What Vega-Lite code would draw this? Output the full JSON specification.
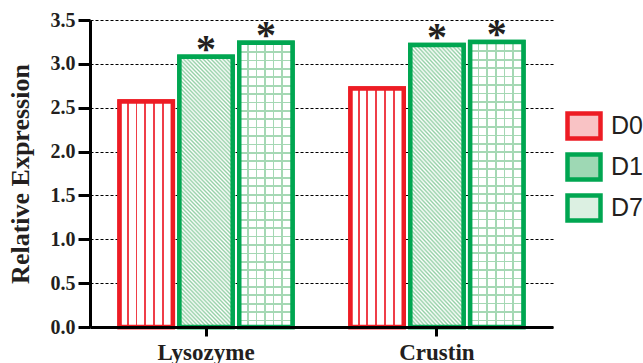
{
"$schema": "https://vega.github.io/schema/vega-lite/v6.json",
"width": 463, "height": 307,
"autosize": {"type": "none"},
"padding": {"left": 90, "top": 20, "right": 90, "bottom": 36},
"background": "white",
"config": {"view": {"stroke": null}},
"data": {"values": [
 {"gene": "Lysozyme", "group": "D0", "value": 2.57, "sig": ""},
 {"gene": "Lysozyme", "group": "D1", "value": 3.08, "sig": "*"},
 {"gene": "Lysozyme", "group": "D7", "value": 3.24, "sig": "*"},
 {"gene": "Crustin", "group": "D0", "value": 2.72, "sig": ""},
 {"gene": "Crustin", "group": "D1", "value": 3.215, "sig": "*"},
 {"gene": "Crustin", "group": "D7", "value": 3.25, "sig": "*"}
]},
"encoding": {
 "x": {"field": "gene", "type": "nominal", "sort": ["Lysozyme", "Crustin"], "scale": {"paddingInner": 0.251, "paddingOuter": 0.128},
   "axis": {"title": null, "labelAngle": 0, "domainColor": "#000", "domainWidth": 3, "tickColor": "#000", "tickWidth": 3, "tickSize": 9, "labelPadding": 5, "labelFont": "Liberation Serif", "labelFontWeight": "bold", "labelFontSize": 23, "labelColor": "#231f20", "zindex": 1, "grid": false}},
 "xOffset": {"field": "group", "type": "nominal", "sort": ["D0", "D1", "D7"], "scale": {"domain": ["D0", "D1", "D7"], "paddingInner": 0.11, "paddingOuter": 0}},
 "y": {"field": "value", "type": "quantitative", "scale": {"domain": [0, 3.5]},
   "axis": {"title": "Relative Expression", "values": [0, 0.5, 1, 1.5, 2, 2.5, 3, 3.5], "format": ".1f", "grid": true, "gridColor": "#000", "gridDash": [3, 2], "gridWidth": 1.2, "domainColor": "#000", "domainWidth": 3, "tickColor": "#000", "tickWidth": 3, "tickSize": 12, "labelPadding": 3, "labelFont": "Liberation Serif", "labelFontWeight": "bold", "labelFontSize": 20, "labelColor": "#231f20", "titleFont": "Liberation Serif", "titleFontWeight": "bold", "titleFontSize": 26, "titleColor": "#231f20", "titlePadding": 17}}
},
"layer": [
 {"mark": {"type": "bar", "strokeWidth": 4.5},
  "encoding": {
   "fill": {"field": "group", "type": "nominal",
    "scale": {"domain": ["D0", "D1", "D7"], "range": ["#f9c3c5", "#9ed8b4", "#dcf0e2"]},
    "legend": {"title": null, "orient": "none", "legendX": 475, "legendY": 87, "padding": 0, "rowPadding": -8,
     "symbolType": "M-1,-0.76L1,-0.76L1,0.76L-1,0.76Z", "symbolSize": 1089, "symbolStrokeWidth": 4.5,
     "labelFont": "Liberation Sans", "labelFontSize": 25, "labelColor": "#231f20", "labelOffset": 8}},
   "stroke": {"field": "group", "type": "nominal", "scale": {"domain": ["D0", "D1", "D7"], "range": ["#ed1c24", "#00a651", "#00a651"]},
    "legend": {"title": null, "orient": "none", "legendX": 475, "legendY": 87, "padding": 0, "rowPadding": -8,
     "symbolType": "M-1,-0.76L1,-0.76L1,0.76L-1,0.76Z", "symbolSize": 1089, "symbolStrokeWidth": 4.5,
     "labelFont": "Liberation Sans", "labelFontSize": 25, "labelColor": "#231f20", "labelOffset": 8}}}},
 {"transform": [{"filter": "datum.group === 'D0'"}],
  "mark": {"type": "bar", "fill": {"gradient": "linear", "x1": 0, "y1": 0, "x2": 1, "y2": 0, "stops": [
   {"offset": 0, "color": "#fff"}, {"offset": 0.142, "color": "#fff"}, {"offset": 0.142, "color": "#ef3e48"}, {"offset": 0.178, "color": "#ef3e48"}, {"offset": 0.178, "color": "#fff"},
   {"offset": 0.3, "color": "#fff"}, {"offset": 0.3, "color": "#ef3e48"}, {"offset": 0.336, "color": "#ef3e48"}, {"offset": 0.336, "color": "#fff"},
   {"offset": 0.462, "color": "#fff"}, {"offset": 0.462, "color": "#ef3e48"}, {"offset": 0.498, "color": "#ef3e48"}, {"offset": 0.498, "color": "#fff"},
   {"offset": 0.627, "color": "#fff"}, {"offset": 0.627, "color": "#ef3e48"}, {"offset": 0.663, "color": "#ef3e48"}, {"offset": 0.663, "color": "#fff"},
   {"offset": 0.792, "color": "#fff"}, {"offset": 0.792, "color": "#ef3e48"}, {"offset": 0.828, "color": "#ef3e48"}, {"offset": 0.828, "color": "#fff"},
   {"offset": 1, "color": "#fff"}]}}},
 {"transform": [{"filter": "datum.group === 'D1'"}],
  "mark": {"type": "bar", "fill": {"gradient": "linear", "x1": 0, "y1": 1, "x2": 0.235, "y2": -0.155, "stops": [
   {"offset": 0, "color": "#94d0a6"}, {"offset": 0.00625, "color": "#fff"}, {"offset": 0.0125, "color": "#94d0a6"}, {"offset": 0.01875, "color": "#fff"}, {"offset": 0.025, "color": "#94d0a6"}, {"offset": 0.03125, "color": "#fff"}, {"offset": 0.0375, "color": "#94d0a6"}, {"offset": 0.04375, "color": "#fff"},
   {"offset": 0.05, "color": "#94d0a6"}, {"offset": 0.05625, "color": "#fff"}, {"offset": 0.0625, "color": "#94d0a6"}, {"offset": 0.06875, "color": "#fff"}, {"offset": 0.075, "color": "#94d0a6"}, {"offset": 0.08125, "color": "#fff"}, {"offset": 0.0875, "color": "#94d0a6"}, {"offset": 0.09375, "color": "#fff"},
   {"offset": 0.1, "color": "#94d0a6"}, {"offset": 0.10625, "color": "#fff"}, {"offset": 0.1125, "color": "#94d0a6"}, {"offset": 0.11875, "color": "#fff"}, {"offset": 0.125, "color": "#94d0a6"}, {"offset": 0.13125, "color": "#fff"}, {"offset": 0.1375, "color": "#94d0a6"}, {"offset": 0.14375, "color": "#fff"},
   {"offset": 0.15, "color": "#94d0a6"}, {"offset": 0.15625, "color": "#fff"}, {"offset": 0.1625, "color": "#94d0a6"}, {"offset": 0.16875, "color": "#fff"}, {"offset": 0.175, "color": "#94d0a6"}, {"offset": 0.18125, "color": "#fff"}, {"offset": 0.1875, "color": "#94d0a6"}, {"offset": 0.19375, "color": "#fff"},
   {"offset": 0.2, "color": "#94d0a6"}, {"offset": 0.20625, "color": "#fff"}, {"offset": 0.2125, "color": "#94d0a6"}, {"offset": 0.21875, "color": "#fff"}, {"offset": 0.225, "color": "#94d0a6"}, {"offset": 0.23125, "color": "#fff"}, {"offset": 0.2375, "color": "#94d0a6"}, {"offset": 0.24375, "color": "#fff"},
   {"offset": 0.25, "color": "#94d0a6"}, {"offset": 0.25625, "color": "#fff"}, {"offset": 0.2625, "color": "#94d0a6"}, {"offset": 0.26875, "color": "#fff"}, {"offset": 0.275, "color": "#94d0a6"}, {"offset": 0.28125, "color": "#fff"}, {"offset": 0.2875, "color": "#94d0a6"}, {"offset": 0.29375, "color": "#fff"},
   {"offset": 0.3, "color": "#94d0a6"}, {"offset": 0.30625, "color": "#fff"}, {"offset": 0.3125, "color": "#94d0a6"}, {"offset": 0.31875, "color": "#fff"}, {"offset": 0.325, "color": "#94d0a6"}, {"offset": 0.33125, "color": "#fff"}, {"offset": 0.3375, "color": "#94d0a6"}, {"offset": 0.34375, "color": "#fff"},
   {"offset": 0.35, "color": "#94d0a6"}, {"offset": 0.35625, "color": "#fff"}, {"offset": 0.3625, "color": "#94d0a6"}, {"offset": 0.36875, "color": "#fff"}, {"offset": 0.375, "color": "#94d0a6"}, {"offset": 0.38125, "color": "#fff"}, {"offset": 0.3875, "color": "#94d0a6"}, {"offset": 0.39375, "color": "#fff"},
   {"offset": 0.4, "color": "#94d0a6"}, {"offset": 0.40625, "color": "#fff"}, {"offset": 0.4125, "color": "#94d0a6"}, {"offset": 0.41875, "color": "#fff"}, {"offset": 0.425, "color": "#94d0a6"}, {"offset": 0.43125, "color": "#fff"}, {"offset": 0.4375, "color": "#94d0a6"}, {"offset": 0.44375, "color": "#fff"},
   {"offset": 0.45, "color": "#94d0a6"}, {"offset": 0.45625, "color": "#fff"}, {"offset": 0.4625, "color": "#94d0a6"}, {"offset": 0.46875, "color": "#fff"}, {"offset": 0.475, "color": "#94d0a6"}, {"offset": 0.48125, "color": "#fff"}, {"offset": 0.4875, "color": "#94d0a6"}, {"offset": 0.49375, "color": "#fff"},
   {"offset": 0.5, "color": "#94d0a6"}, {"offset": 0.50625, "color": "#fff"}, {"offset": 0.5125, "color": "#94d0a6"}, {"offset": 0.51875, "color": "#fff"}, {"offset": 0.525, "color": "#94d0a6"}, {"offset": 0.53125, "color": "#fff"}, {"offset": 0.5375, "color": "#94d0a6"}, {"offset": 0.54375, "color": "#fff"},
   {"offset": 0.55, "color": "#94d0a6"}, {"offset": 0.55625, "color": "#fff"}, {"offset": 0.5625, "color": "#94d0a6"}, {"offset": 0.56875, "color": "#fff"}, {"offset": 0.575, "color": "#94d0a6"}, {"offset": 0.58125, "color": "#fff"}, {"offset": 0.5875, "color": "#94d0a6"}, {"offset": 0.59375, "color": "#fff"},
   {"offset": 0.6, "color": "#94d0a6"}, {"offset": 0.60625, "color": "#fff"}, {"offset": 0.6125, "color": "#94d0a6"}, {"offset": 0.61875, "color": "#fff"}, {"offset": 0.625, "color": "#94d0a6"}, {"offset": 0.63125, "color": "#fff"}, {"offset": 0.6375, "color": "#94d0a6"}, {"offset": 0.64375, "color": "#fff"},
   {"offset": 0.65, "color": "#94d0a6"}, {"offset": 0.65625, "color": "#fff"}, {"offset": 0.6625, "color": "#94d0a6"}, {"offset": 0.66875, "color": "#fff"}, {"offset": 0.675, "color": "#94d0a6"}, {"offset": 0.68125, "color": "#fff"}, {"offset": 0.6875, "color": "#94d0a6"}, {"offset": 0.69375, "color": "#fff"},
   {"offset": 0.7, "color": "#94d0a6"}, {"offset": 0.70625, "color": "#fff"}, {"offset": 0.7125, "color": "#94d0a6"}, {"offset": 0.71875, "color": "#fff"}, {"offset": 0.725, "color": "#94d0a6"}, {"offset": 0.73125, "color": "#fff"}, {"offset": 0.7375, "color": "#94d0a6"}, {"offset": 0.74375, "color": "#fff"},
   {"offset": 0.75, "color": "#94d0a6"}, {"offset": 0.75625, "color": "#fff"}, {"offset": 0.7625, "color": "#94d0a6"}, {"offset": 0.76875, "color": "#fff"}, {"offset": 0.775, "color": "#94d0a6"}, {"offset": 0.78125, "color": "#fff"}, {"offset": 0.7875, "color": "#94d0a6"}, {"offset": 0.79375, "color": "#fff"},
   {"offset": 0.8, "color": "#94d0a6"}, {"offset": 0.80625, "color": "#fff"}, {"offset": 0.8125, "color": "#94d0a6"}, {"offset": 0.81875, "color": "#fff"}, {"offset": 0.825, "color": "#94d0a6"}, {"offset": 0.83125, "color": "#fff"}, {"offset": 0.8375, "color": "#94d0a6"}, {"offset": 0.84375, "color": "#fff"},
   {"offset": 0.85, "color": "#94d0a6"}, {"offset": 0.85625, "color": "#fff"}, {"offset": 0.8625, "color": "#94d0a6"}, {"offset": 0.86875, "color": "#fff"}, {"offset": 0.875, "color": "#94d0a6"}, {"offset": 0.88125, "color": "#fff"}, {"offset": 0.8875, "color": "#94d0a6"}, {"offset": 0.89375, "color": "#fff"},
   {"offset": 0.9, "color": "#94d0a6"}, {"offset": 0.90625, "color": "#fff"}, {"offset": 0.9125, "color": "#94d0a6"}, {"offset": 0.91875, "color": "#fff"}, {"offset": 0.925, "color": "#94d0a6"}, {"offset": 0.93125, "color": "#fff"}, {"offset": 0.9375, "color": "#94d0a6"}, {"offset": 0.94375, "color": "#fff"},
   {"offset": 0.95, "color": "#94d0a6"}, {"offset": 0.95625, "color": "#fff"}, {"offset": 0.9625, "color": "#94d0a6"}, {"offset": 0.96875, "color": "#fff"}, {"offset": 0.975, "color": "#94d0a6"}, {"offset": 0.98125, "color": "#fff"}, {"offset": 0.9875, "color": "#94d0a6"}, {"offset": 0.99375, "color": "#fff"},
   {"offset": 1, "color": "#94d0a6"}]}}},
 {"transform": [{"filter": "datum.group === 'D7'"}],
  "mark": {"type": "bar", "fill": {"gradient": "linear", "x1": 0, "y1": 0, "x2": 1, "y2": 0, "stops": [
   {"offset": 0, "color": "#fff"}, {"offset": 0.143, "color": "#fff"}, {"offset": 0.143, "color": "#a5d8b4"}, {"offset": 0.175, "color": "#a5d8b4"}, {"offset": 0.175, "color": "#fff"},
   {"offset": 0.305, "color": "#fff"}, {"offset": 0.305, "color": "#a5d8b4"}, {"offset": 0.337, "color": "#a5d8b4"}, {"offset": 0.337, "color": "#fff"},
   {"offset": 0.467, "color": "#fff"}, {"offset": 0.467, "color": "#a5d8b4"}, {"offset": 0.499, "color": "#a5d8b4"}, {"offset": 0.499, "color": "#fff"},
   {"offset": 0.629, "color": "#fff"}, {"offset": 0.629, "color": "#a5d8b4"}, {"offset": 0.661, "color": "#a5d8b4"}, {"offset": 0.661, "color": "#fff"},
   {"offset": 0.791, "color": "#fff"}, {"offset": 0.791, "color": "#a5d8b4"}, {"offset": 0.823, "color": "#a5d8b4"}, {"offset": 0.823, "color": "#fff"},
   {"offset": 1, "color": "#fff"}]}}},
 {"transform": [{"filter": "datum.group === 'D7'"}],
  "mark": {"type": "bar", "fill": {"gradient": "linear", "x1": 0, "y1": 0, "x2": 0, "y2": 1, "stops": [
   {"offset": 0, "color": "rgba(165,216,180,0)"},
   {"offset": 0.03, "color": "rgba(165,216,180,0)"}, {"offset": 0.03, "color": "#a5d8b4"}, {"offset": 0.036, "color": "#a5d8b4"}, {"offset": 0.036, "color": "rgba(165,216,180,0)"},
   {"offset": 0.0595, "color": "rgba(165,216,180,0)"}, {"offset": 0.0595, "color": "#a5d8b4"}, {"offset": 0.0655, "color": "#a5d8b4"}, {"offset": 0.0655, "color": "rgba(165,216,180,0)"},
   {"offset": 0.089, "color": "rgba(165,216,180,0)"}, {"offset": 0.089, "color": "#a5d8b4"}, {"offset": 0.095, "color": "#a5d8b4"}, {"offset": 0.095, "color": "rgba(165,216,180,0)"},
   {"offset": 0.1185, "color": "rgba(165,216,180,0)"}, {"offset": 0.1185, "color": "#a5d8b4"}, {"offset": 0.1245, "color": "#a5d8b4"}, {"offset": 0.1245, "color": "rgba(165,216,180,0)"},
   {"offset": 0.148, "color": "rgba(165,216,180,0)"}, {"offset": 0.148, "color": "#a5d8b4"}, {"offset": 0.154, "color": "#a5d8b4"}, {"offset": 0.154, "color": "rgba(165,216,180,0)"},
   {"offset": 0.1775, "color": "rgba(165,216,180,0)"}, {"offset": 0.1775, "color": "#a5d8b4"}, {"offset": 0.1835, "color": "#a5d8b4"}, {"offset": 0.1835, "color": "rgba(165,216,180,0)"},
   {"offset": 0.207, "color": "rgba(165,216,180,0)"}, {"offset": 0.207, "color": "#a5d8b4"}, {"offset": 0.213, "color": "#a5d8b4"}, {"offset": 0.213, "color": "rgba(165,216,180,0)"},
   {"offset": 0.2365, "color": "rgba(165,216,180,0)"}, {"offset": 0.2365, "color": "#a5d8b4"}, {"offset": 0.2425, "color": "#a5d8b4"}, {"offset": 0.2425, "color": "rgba(165,216,180,0)"},
   {"offset": 0.266, "color": "rgba(165,216,180,0)"}, {"offset": 0.266, "color": "#a5d8b4"}, {"offset": 0.272, "color": "#a5d8b4"}, {"offset": 0.272, "color": "rgba(165,216,180,0)"},
   {"offset": 0.2955, "color": "rgba(165,216,180,0)"}, {"offset": 0.2955, "color": "#a5d8b4"}, {"offset": 0.3015, "color": "#a5d8b4"}, {"offset": 0.3015, "color": "rgba(165,216,180,0)"},
   {"offset": 0.325, "color": "rgba(165,216,180,0)"}, {"offset": 0.325, "color": "#a5d8b4"}, {"offset": 0.331, "color": "#a5d8b4"}, {"offset": 0.331, "color": "rgba(165,216,180,0)"},
   {"offset": 0.3545, "color": "rgba(165,216,180,0)"}, {"offset": 0.3545, "color": "#a5d8b4"}, {"offset": 0.3605, "color": "#a5d8b4"}, {"offset": 0.3605, "color": "rgba(165,216,180,0)"},
   {"offset": 0.384, "color": "rgba(165,216,180,0)"}, {"offset": 0.384, "color": "#a5d8b4"}, {"offset": 0.39, "color": "#a5d8b4"}, {"offset": 0.39, "color": "rgba(165,216,180,0)"},
   {"offset": 0.4135, "color": "rgba(165,216,180,0)"}, {"offset": 0.4135, "color": "#a5d8b4"}, {"offset": 0.4195, "color": "#a5d8b4"}, {"offset": 0.4195, "color": "rgba(165,216,180,0)"},
   {"offset": 0.443, "color": "rgba(165,216,180,0)"}, {"offset": 0.443, "color": "#a5d8b4"}, {"offset": 0.449, "color": "#a5d8b4"}, {"offset": 0.449, "color": "rgba(165,216,180,0)"},
   {"offset": 0.4725, "color": "rgba(165,216,180,0)"}, {"offset": 0.4725, "color": "#a5d8b4"}, {"offset": 0.4785, "color": "#a5d8b4"}, {"offset": 0.4785, "color": "rgba(165,216,180,0)"},
   {"offset": 0.502, "color": "rgba(165,216,180,0)"}, {"offset": 0.502, "color": "#a5d8b4"}, {"offset": 0.508, "color": "#a5d8b4"}, {"offset": 0.508, "color": "rgba(165,216,180,0)"},
   {"offset": 0.5315, "color": "rgba(165,216,180,0)"}, {"offset": 0.5315, "color": "#a5d8b4"}, {"offset": 0.5375, "color": "#a5d8b4"}, {"offset": 0.5375, "color": "rgba(165,216,180,0)"},
   {"offset": 0.561, "color": "rgba(165,216,180,0)"}, {"offset": 0.561, "color": "#a5d8b4"}, {"offset": 0.567, "color": "#a5d8b4"}, {"offset": 0.567, "color": "rgba(165,216,180,0)"},
   {"offset": 0.5905, "color": "rgba(165,216,180,0)"}, {"offset": 0.5905, "color": "#a5d8b4"}, {"offset": 0.5965, "color": "#a5d8b4"}, {"offset": 0.5965, "color": "rgba(165,216,180,0)"},
   {"offset": 0.62, "color": "rgba(165,216,180,0)"}, {"offset": 0.62, "color": "#a5d8b4"}, {"offset": 0.626, "color": "#a5d8b4"}, {"offset": 0.626, "color": "rgba(165,216,180,0)"},
   {"offset": 0.6495, "color": "rgba(165,216,180,0)"}, {"offset": 0.6495, "color": "#a5d8b4"}, {"offset": 0.6555, "color": "#a5d8b4"}, {"offset": 0.6555, "color": "rgba(165,216,180,0)"},
   {"offset": 0.679, "color": "rgba(165,216,180,0)"}, {"offset": 0.679, "color": "#a5d8b4"}, {"offset": 0.685, "color": "#a5d8b4"}, {"offset": 0.685, "color": "rgba(165,216,180,0)"},
   {"offset": 0.7085, "color": "rgba(165,216,180,0)"}, {"offset": 0.7085, "color": "#a5d8b4"}, {"offset": 0.7145, "color": "#a5d8b4"}, {"offset": 0.7145, "color": "rgba(165,216,180,0)"},
   {"offset": 0.738, "color": "rgba(165,216,180,0)"}, {"offset": 0.738, "color": "#a5d8b4"}, {"offset": 0.744, "color": "#a5d8b4"}, {"offset": 0.744, "color": "rgba(165,216,180,0)"},
   {"offset": 0.7675, "color": "rgba(165,216,180,0)"}, {"offset": 0.7675, "color": "#a5d8b4"}, {"offset": 0.7735, "color": "#a5d8b4"}, {"offset": 0.7735, "color": "rgba(165,216,180,0)"},
   {"offset": 0.797, "color": "rgba(165,216,180,0)"}, {"offset": 0.797, "color": "#a5d8b4"}, {"offset": 0.803, "color": "#a5d8b4"}, {"offset": 0.803, "color": "rgba(165,216,180,0)"},
   {"offset": 0.8265, "color": "rgba(165,216,180,0)"}, {"offset": 0.8265, "color": "#a5d8b4"}, {"offset": 0.8325, "color": "#a5d8b4"}, {"offset": 0.8325, "color": "rgba(165,216,180,0)"},
   {"offset": 0.856, "color": "rgba(165,216,180,0)"}, {"offset": 0.856, "color": "#a5d8b4"}, {"offset": 0.862, "color": "#a5d8b4"}, {"offset": 0.862, "color": "rgba(165,216,180,0)"},
   {"offset": 0.8855, "color": "rgba(165,216,180,0)"}, {"offset": 0.8855, "color": "#a5d8b4"}, {"offset": 0.8915, "color": "#a5d8b4"}, {"offset": 0.8915, "color": "rgba(165,216,180,0)"},
   {"offset": 0.915, "color": "rgba(165,216,180,0)"}, {"offset": 0.915, "color": "#a5d8b4"}, {"offset": 0.921, "color": "#a5d8b4"}, {"offset": 0.921, "color": "rgba(165,216,180,0)"},
   {"offset": 0.9445, "color": "rgba(165,216,180,0)"}, {"offset": 0.9445, "color": "#a5d8b4"}, {"offset": 0.9505, "color": "#a5d8b4"}, {"offset": 0.9505, "color": "rgba(165,216,180,0)"},
   {"offset": 0.974, "color": "rgba(165,216,180,0)"}, {"offset": 0.974, "color": "#a5d8b4"}, {"offset": 0.98, "color": "#a5d8b4"}, {"offset": 0.98, "color": "rgba(165,216,180,0)"},
   {"offset": 1, "color": "rgba(165,216,180,0)"}]}}},
 {"transform": [{"filter": "datum.group === 'D0'"}],
  "mark": {"type": "bar", "fill": "transparent", "stroke": "#ed1c24", "strokeWidth": 4.5}},
 {"transform": [{"filter": "datum.group !== 'D0'"}],
  "mark": {"type": "bar", "fill": "transparent", "stroke": "#00a651", "strokeWidth": 4.5}},
 {"transform": [{"filter": "datum.sig === '*'"}],
  "mark": {"type": "text", "font": "Liberation Serif", "fontWeight": "bold", "fontSize": 40, "baseline": "alphabetic", "dy": 5, "color": "#231f20"},
  "encoding": {"text": {"field": "sig"}}}
]
}
